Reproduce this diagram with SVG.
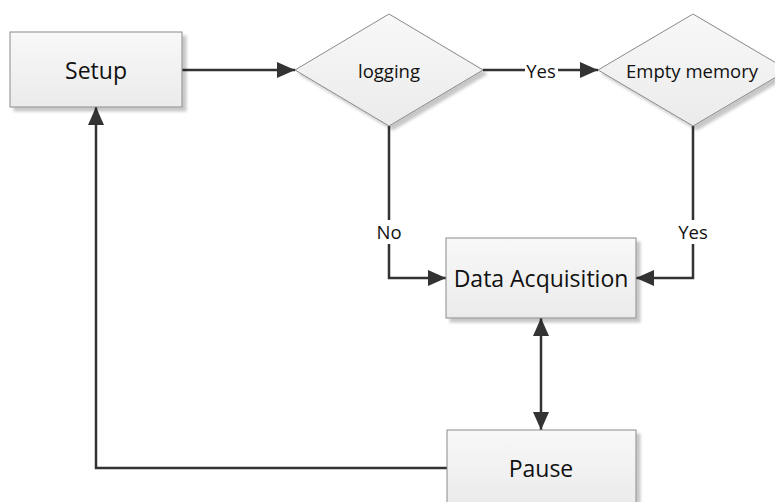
<svg xmlns="http://www.w3.org/2000/svg" width="775" height="502" viewBox="0 0 775 502">
<style>
.node{fill:url(#g);stroke:#8a8a8a;stroke-width:1;filter:url(#sh)}
.t{font-family:"Open Sans","Noto Sans",sans-serif;fill:#111;text-anchor:middle;dominant-baseline:central}
.big{font-size:23px}
.sm{font-size:18.5px}
.c{fill:none;stroke:#333;stroke-width:2.5}
.lb{fill:#fff}
</style>
<defs>
<linearGradient id="g" x1="0" y1="0" x2="0" y2="1">
<stop offset="0" stop-color="#f8f8f8"/>
<stop offset="1" stop-color="#ebebeb"/>
</linearGradient>
<filter id="sh" x="-10%" y="-10%" width="130%" height="130%">
<feDropShadow dx="4" dy="4" stdDeviation="1.5" flood-color="#000" flood-opacity="0.22"/>
</filter>
<marker id="a" markerUnits="userSpaceOnUse" markerWidth="18" markerHeight="16" refX="18" refY="8" orient="auto-start-reverse" viewBox="0 0 18 16">
<path d="M0,0 L18,8 L0,16 z" fill="#333"/>
</marker>
</defs>
<g id="connectors">
<path class="c" d="M182,70 H295" marker-end="url(#a)"/>
<path class="c" d="M483,70 H598" marker-end="url(#a)"/>
<path class="c" d="M389,126 V278 H446" marker-end="url(#a)"/>
<path class="c" d="M693,126 V278 H636" marker-end="url(#a)"/>
<path class="c" d="M541,318 V430" marker-start="url(#a)" marker-end="url(#a)"/>
<path class="c" d="M447,468 H96 V107" marker-end="url(#a)"/>
<rect class="lb" x="525" y="58" width="33" height="24"/>
<text class="t sm" x="541" y="70">Yes</text>
<rect class="lb" x="375" y="220" width="28" height="24"/>
<text class="t sm" x="389" y="231">No</text>
<rect class="lb" x="677" y="220" width="33" height="24"/>
<text class="t sm" x="693" y="231">Yes</text>
</g>
<g id="setup">
<rect class="node" x="10" y="32" width="172" height="75"/>
<text class="t big" x="96" y="70">Setup</text>
</g>
<g id="logging">
<polygon class="node" points="389,14 483,70 389,126 295,70"/>
<text class="t sm" x="389" y="70">logging</text>
</g>
<g id="empty-memory">
<polygon class="node" points="693,14 788,70 693,126 598,70"/>
<text class="t sm" x="692" y="70">Empty memory</text>
</g>
<g id="data-acquisition">
<rect class="node" x="446" y="238" width="190" height="80"/>
<text class="t big" x="541" y="278">Data Acquisition</text>
</g>
<g id="pause">
<rect class="node" x="447" y="430" width="189" height="76"/>
<text class="t big" x="541" y="468">Pause</text>
</g>
</svg>
